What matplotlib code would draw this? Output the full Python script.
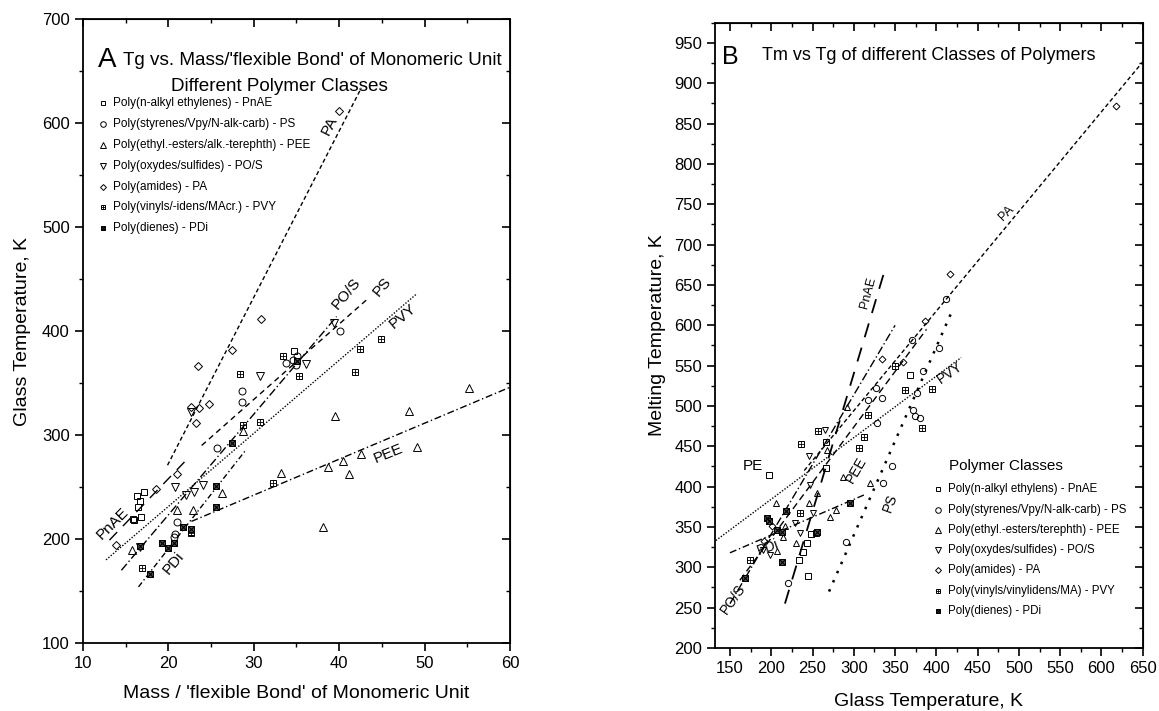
import matplotlib
matplotlib.use("Agg")
import matplotlib.pyplot as plt
from matplotlib.ticker import MultipleLocator

plt.rcParams["font.family"] = ["Liberation Sans", "DejaVu Sans"]

# ---------------- panel A data: Tg vs mass per flexible bond ----------------
a_pnae_x = [16.3, 17.2, 16.7, 16.5, 16.8, 16.0, 34.7, 22.7, 15.9]
a_pnae_y = [241, 245, 237, 231, 221, 218, 381, 207, 219]
a_ps_x = [40.1, 33.8, 34.6, 35.0, 35.1, 28.6, 28.6, 25.7, 21.0, 20.8, 20.6]
a_ps_y = [400, 369, 372, 367, 376, 342, 332, 288, 216, 205, 202]
a_pee_x = [55.2, 48.2, 49.1, 39.5, 42.6, 40.4, 41.1, 38.7, 38.1, 33.2, 26.3, 22.9, 21.0, 28.7, 15.7]
a_pee_y = [345, 323, 289, 318, 282, 275, 263, 269, 212, 264, 244, 228, 228, 304, 189]
a_pos_x = [39.4, 36.1, 30.7, 20.8, 22.1, 23.0, 24.1, 22.7, 16.7]
a_pos_y = [408, 368, 357, 250, 242, 245, 252, 322, 192]
a_pa_x = [40.0, 23.5, 27.4, 30.8, 22.7, 23.6, 24.7, 23.2, 18.6, 21.0, 13.9]
a_pa_y = [612, 366, 382, 412, 327, 326, 330, 312, 248, 263, 194]
a_pvy_x = [44.9, 42.4, 41.8, 33.4, 35.3, 28.4, 28.7, 30.7, 32.3, 16.9, 22.7]
a_pvy_y = [392, 383, 361, 376, 357, 359, 310, 313, 254, 172, 206]
a_pdi_x = [25.6, 25.6, 27.5, 17.9, 19.2, 20.0, 20.6, 21.7, 22.7, 16.7, 35.1]
a_pdi_y = [251, 231, 292, 166, 196, 191, 196, 212, 210, 193, 371]

# fitted trend lines, panel A: end points (x0, x1), (y0, y1)
a_line_pa = ([19.9, 42.6], [271, 634])
a_line_pnae = ([13.1, 22.1], [199, 276])
a_line_ps = ([23.9, 43.2], [290, 430])
a_line_pos = ([14.5, 39.7], [170, 414])
a_line_pvy = ([12.7, 49.1], [180, 436])
a_line_pee = ([22.7, 60.0], [217, 346])
a_line_pdi = ([16.5, 29.1], [154, 286])

# ---------------- panel B data: Tm vs Tg ----------------
b_pnae_x = [266, 266, 247.7, 242.9, 238.8, 234, 244.9, 197.2, 368, 254]
b_pnae_y = [455, 423, 341.5, 330, 319.5, 309, 289, 415, 539, 343]
b_ps_x = [412, 370, 317.5, 326.8, 333.7, 327.8, 220.7, 290.4, 335.6, 345.8, 372, 374, 380, 376, 384, 403.5]
b_ps_y = [633, 582, 508, 522, 510, 479, 280, 332, 404, 426, 495, 487, 485, 516, 543, 572]
b_pee_x = [291.3, 267.8, 205.7, 245.6, 255.7, 286.4, 279, 271, 216.6, 214.5, 230, 206.5, 319.5]
b_pee_y = [499, 446, 380, 380, 392, 412.5, 371, 363, 351, 338, 330, 320, 405]
b_pos_x = [265, 246, 246.9, 250.8, 228.7, 234.7, 198.4, 190.3]
b_pos_y = [470.5, 438, 402, 367, 355, 343, 315, 322]
b_pa_x = [617, 416.3, 333.7, 386, 360, 200.5, 191.6]
b_pa_y = [872, 663, 558, 605, 555, 351, 333]
b_pvy_x = [257, 236, 316.7, 312.6, 306.5, 234.7, 382, 395.3, 361.9, 349.8, 174.2]
b_pvy_y = [468.5, 453, 489, 462, 448, 367, 473, 521, 520, 549, 309]
b_pdi_x = [217.4, 295.3, 194.4, 197.6, 206.5, 212.6, 255, 212.6, 168.2]
b_pdi_y = [370, 379.5, 361, 357, 346, 344, 343.5, 306, 286.5]

b_line_pa = ([240, 652], [420, 929])
b_line_pnae = ([216.6, 337.7], [255, 669])
b_line_pvy = ([130, 430], [331, 560])
b_line_pdi = ([150, 313], [318, 390])
b_line_pee = ([162, 388], [284, 595])
b_line_pos = ([150, 350], [255, 600])
b_line_ps = ([270, 420], [270, 620])

legend_a = [
    "Poly(n-alkyl ethylenes) - PnAE",
    "Poly(styrenes/Vpy/N-alk-carb) - PS",
    "Poly(ethyl.-esters/alk.-terephth) - PEE",
    "Poly(oxydes/sulfides) - PO/S",
    "Poly(amides) - PA",
    "Poly(vinyls/-idens/MAcr.) - PVY",
    "Poly(dienes) - PDi",
]
legend_b = [
    "Poly(n-alkyl ethylens) - PnAE",
    "Poly(styrenes/Vpy/N-alk-carb) - PS",
    "Poly(ethyl.-esters/terephth) - PEE",
    "Poly(oxydes/sulfides) - PO/S",
    "Poly(amides) - PA",
    "Poly(vinyls/vinylidens/MA) - PVY",
    "Poly(dienes) - PDi",
]

MS = 4.5


def draw_marker(ax, x, y, kind, ms=MS):
    if kind == "pnae":
        ax.plot(x, y, "s", ms=ms, mfc="none", mec="black", mew=0.7, ls="none")
    elif kind == "ps":
        ax.plot(x, y, "o", ms=ms + 0.5, mfc="none", mec="black", mew=0.7, ls="none")
    elif kind == "pee":
        ax.plot(x, y, "^", ms=ms + 1, mfc="none", mec="black", mew=0.7, ls="none")
    elif kind == "pos":
        ax.plot(x, y, "v", ms=ms + 1, mfc="none", mec="black", mew=0.7, ls="none")
    elif kind == "pa":
        ax.plot(x, y, "D", ms=ms - 0.5, mfc="none", mec="black", mew=0.7, ls="none")
    elif kind == "pvy":
        ax.plot(x, y, "s", ms=ms, mfc="none", mec="black", mew=0.7, ls="none")
        ax.plot(x, y, "+", ms=ms, mec="black", mew=0.6, ls="none")
    elif kind == "pdi":
        ax.plot(x, y, "s", ms=ms, mfc="#555555", mec="black", mew=0.7, ls="none")
        ax.plot(x, y, "x", ms=ms, mec="black", mew=0.8, ls="none")


def style_axes(ax, xmaj, xmin, ymaj, ymin):
    ax.xaxis.set_major_locator(MultipleLocator(xmaj))
    ax.xaxis.set_minor_locator(MultipleLocator(xmin))
    ax.yaxis.set_major_locator(MultipleLocator(ymaj))
    ax.yaxis.set_minor_locator(MultipleLocator(ymin))
    ax.tick_params(which="major", direction="out", length=6, width=1.2, labelsize=12)
    ax.tick_params(which="minor", direction="out", length=3, width=1.0)
    for sp in ax.spines.values():
        sp.set_linewidth(1.3)
    top = ax.secondary_xaxis("top")
    right = ax.secondary_yaxis("right")
    top.xaxis.set_major_locator(MultipleLocator(xmaj))
    top.xaxis.set_minor_locator(MultipleLocator(xmin))
    right.yaxis.set_major_locator(MultipleLocator(ymaj))
    right.yaxis.set_minor_locator(MultipleLocator(ymin))
    for sec in (top, right):
        sec.tick_params(which="major", direction="in", length=6, width=1.2,
                        labeltop=False, labelright=False)
        sec.tick_params(which="minor", direction="in", length=3, width=1.0)


def line(ax, seg, dashes, lw=1.0):
    ax.plot(seg[0], seg[1], color="black", lw=lw, dashes=dashes)


fig = plt.figure(figsize=(11.59, 7.11), dpi=100)
ax_a = fig.add_axes([0.0716, 0.0956, 0.3684, 0.8774])
ax_b = fig.add_axes([0.617, 0.0886, 0.369, 0.8794])

# ---------------- panel A ----------------
line(ax_a, a_line_pa, (3, 2))
line(ax_a, a_line_pnae, (8, 6))
line(ax_a, a_line_ps, (4, 3))
line(ax_a, a_line_pos, (6, 2, 1, 2))
line(ax_a, a_line_pvy, (1, 1.2))
line(ax_a, a_line_pee, (5, 2, 1, 2))
line(ax_a, a_line_pdi, (4, 2, 1, 2))

for xs, ys, k in [(a_pnae_x, a_pnae_y, "pnae"), (a_ps_x, a_ps_y, "ps"),
                  (a_pee_x, a_pee_y, "pee"), (a_pos_x, a_pos_y, "pos"),
                  (a_pa_x, a_pa_y, "pa"), (a_pvy_x, a_pvy_y, "pvy"),
                  (a_pdi_x, a_pdi_y, "pdi")]:
    draw_marker(ax_a, xs, ys, k)

ax_a.set_xlim(10, 60)
ax_a.set_ylim(100, 700)
style_axes(ax_a, 10, 5, 100, 50)
ax_a.set_xlabel("Mass / 'flexible Bond' of Monomeric Unit", fontsize=14, labelpad=10)
ax_a.set_ylabel("Glass Temperature, K", fontsize=14, labelpad=8)

ax_a.text(0.035, 0.955, "A", transform=ax_a.transAxes, fontsize=20, va="top")
ax_a.text(0.093, 0.948, "Tg vs. Mass/'flexible Bond' of Monomeric Unit",
          transform=ax_a.transAxes, fontsize=13.6, va="top")
ax_a.text(0.46, 0.905, "Different Polymer Classes", transform=ax_a.transAxes,
          fontsize=13.6, va="top", ha="center")

kinds = ["pnae", "ps", "pee", "pos", "pa", "pvy", "pdi"]
for i, (lab, k) in enumerate(zip(legend_a, kinds)):
    yy = 0.865 - i * 0.0333
    xd = 10 + 0.047 * 50
    yd = 100 + yy * 600
    draw_marker(ax_a, [xd], [yd], k, ms=3.5)
    ax_a.text(0.07, yy, lab, transform=ax_a.transAxes, fontsize=8.5, va="center")

ax_a.text(38.9, 598, "PA", rotation=63, fontsize=11, ha="center", va="center")
ax_a.text(40.9, 436, "PO/S", rotation=50, fontsize=11, ha="center", va="center")
ax_a.text(45.0, 443, "PS", rotation=50, fontsize=11, ha="center", va="center")
ax_a.text(47.5, 414, "PVY", rotation=40, fontsize=11, ha="center", va="center")
ax_a.text(45.7, 282, "PEE", rotation=22, fontsize=11, ha="center", va="center")
ax_a.text(20.6, 177, "PDi", rotation=50, fontsize=11, ha="center", va="center")
ax_a.text(13.5, 215, "PnAE", rotation=45, fontsize=11, ha="center", va="center")

# ---------------- panel B ----------------
line(ax_b, b_line_pa, (3, 2))
line(ax_b, b_line_pnae, (8, 6), lw=1.3)
line(ax_b, b_line_pvy, (1, 1.2))
line(ax_b, b_line_pdi, (5, 2, 1, 2))
line(ax_b, b_line_pee, (5, 3))
line(ax_b, b_line_pos, (6, 2, 1, 2))
line(ax_b, b_line_ps, (1, 3), lw=1.8)

for xs, ys, k in [(b_pnae_x, b_pnae_y, "pnae"), (b_ps_x, b_ps_y, "ps"),
                  (b_pee_x, b_pee_y, "pee"), (b_pos_x, b_pos_y, "pos"),
                  (b_pa_x, b_pa_y, "pa"), (b_pvy_x, b_pvy_y, "pvy"),
                  (b_pdi_x, b_pdi_y, "pdi")]:
    draw_marker(ax_b, xs, ys, k, ms=4)

ax_b.set_xlim(132, 650)
ax_b.set_ylim(200, 975)
style_axes(ax_b, 50, 25, 50, 25)
ax_b.set_xlabel("Glass Temperature, K", fontsize=14, labelpad=12)
ax_b.set_ylabel("Melting Temperature, K", fontsize=14, labelpad=6)

ax_b.text(0.015, 0.965, "B", transform=ax_b.transAxes, fontsize=18, va="top")
ax_b.text(0.11, 0.962, "Tm vs Tg of different Classes of Polymers",
          transform=ax_b.transAxes, fontsize=13, va="top")

ax_b.text(0.548, 0.291, "Polymer Classes", transform=ax_b.transAxes, fontsize=11, va="center")
for i, (lab, k) in enumerate(zip(legend_b, kinds)):
    yy = 0.254 - i * 0.0325
    xd = 132 + 0.521 * 518
    yd = 200 + yy * 775
    draw_marker(ax_b, [xd], [yd], k, ms=3.5)
    ax_b.text(0.544, yy, lab, transform=ax_b.transAxes, fontsize=8.3, va="center")

ax_b.text(317.5, 640, "PnAE", rotation=75, fontsize=9, ha="center", va="center")
ax_b.text(485, 739, "PA", rotation=45, fontsize=9, ha="center", va="center")
ax_b.text(416, 541, "PVY", rotation=35, fontsize=10, ha="center", va="center")
ax_b.text(303.4, 421, "PEE", rotation=60, fontsize=10, ha="center", va="center")
ax_b.text(343.7, 380, "PS", rotation=70, fontsize=10, ha="center", va="center")
ax_b.text(178, 425, "PE", fontsize=11, ha="center", va="center")
ax_b.text(196, 325, "PDi", rotation=20, fontsize=10, ha="center", va="center")
ax_b.text(154, 260, "PO/S", rotation=55, fontsize=10, ha="center", va="center")

fig.savefig("out.png", dpi=100)
